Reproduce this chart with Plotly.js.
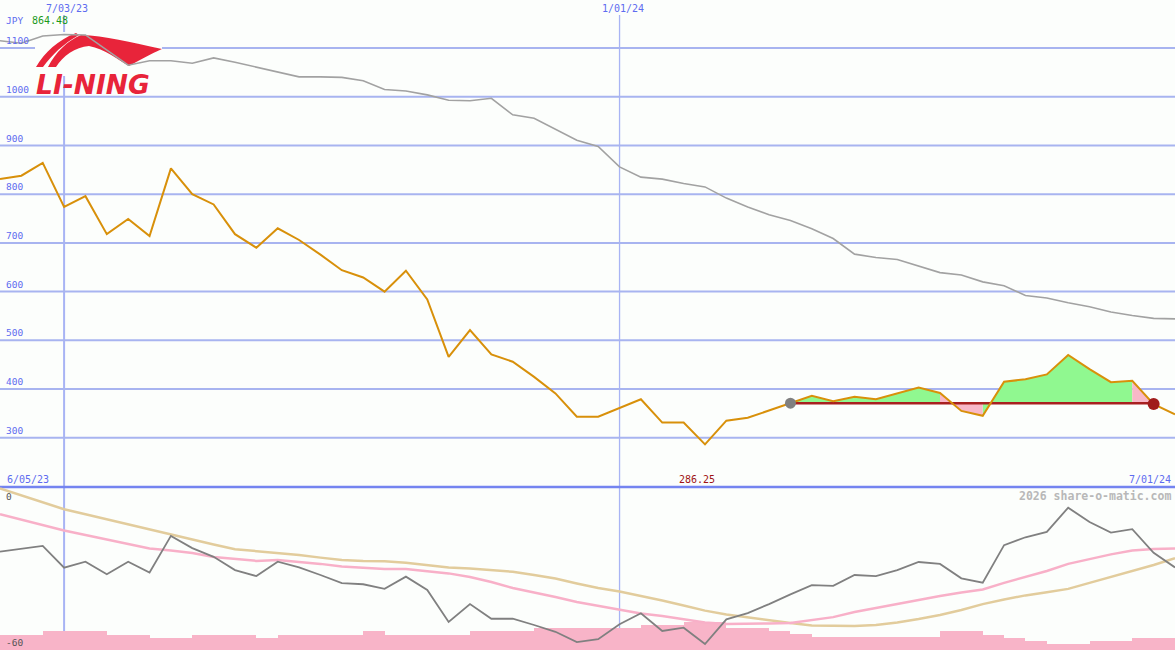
<!DOCTYPE html>
<html>
<head>
<meta charset="utf-8">
<script src="https://cdn.plot.ly/plotly-3.0.1.min.js"></script>
<style>
  html, body { margin: 0; padding: 0; background: #fcfefc; }
  #chart { width: 1175px; height: 650px; }
</style>
</head>
<body>
<div id="chart"></div>
<script>
// ---------- data ----------
const dates = [
  '2023-06-12','2023-06-19','2023-06-26','2023-07-03','2023-07-10','2023-07-17','2023-07-24','2023-07-31',
  '2023-08-07','2023-08-14','2023-08-21','2023-08-28','2023-09-04','2023-09-11','2023-09-18','2023-09-25',
  '2023-10-02','2023-10-09','2023-10-16','2023-10-23','2023-10-30','2023-11-06','2023-11-13','2023-11-20',
  '2023-11-27','2023-12-04','2023-12-11','2023-12-18','2023-12-25','2024-01-01','2024-01-08','2024-01-15',
  '2024-01-22','2024-01-29','2024-02-05','2024-02-12','2024-02-19','2024-02-26','2024-03-04','2024-03-11',
  '2024-03-18','2024-03-25','2024-04-01','2024-04-08','2024-04-15','2024-04-22','2024-04-29','2024-05-06',
  '2024-05-13','2024-05-20','2024-05-27','2024-06-03','2024-06-10','2024-06-17','2024-06-24','2024-07-01'
];
const price = [
  831, 838, 864.48, 774, 796, 718, 749, 714, 853, 800, 779, 718, 690, 730, 706, 676,
  644, 629, 600, 643, 584, 466, 521, 471, 456, 425, 391, 343, 343, 361, 379, 331,
  331, 286.25, 335, 341, 356, 371, 386, 375, 384, 379, 391, 403, 392, 355, 345, 415,
  420, 430, 470, 441, 414, 417, 369, 348
];
const priceMA = [
  1115, 1110, 1125, 1128, 1127, 1096, 1065, 1074, 1074, 1069, 1080, 1071, 1061, 1052, 1041, 1041,
  1040, 1033, 1015, 1012, 1004, 993, 992, 997, 963, 956, 934, 911, 898, 856, 835, 831,
  822, 815, 792, 774, 758, 746, 729, 709, 677, 670, 666, 653, 639, 634, 620, 612,
  592, 587, 577, 569, 558, 551, 545, 544
];
const relStrength = [
  -23.8, -22.7, -21.7, -29.7, -27.5, -32.1, -27.5, -31.5, -18.0, -22.5, -25.7, -30.6, -32.8, -27.5, -29.6, -32.4,
  -35.4, -35.8, -37.5, -33.0, -37.9, -49.7, -43.1, -48.5, -48.5, -50.8, -53.3, -57.1, -56.0, -50.5, -46.5, -53.0,
  -51.8, -57.8, -48.7, -46.4, -43.1, -39.5, -36.1, -36.4, -32.4, -32.8, -30.6, -27.6, -28.3, -33.6, -35.2, -21.4,
  -18.5, -16.5, -7.6, -12.9, -16.8, -15.5, -24.2, -29.6
];
const rsShortMA = [
  -10.0, -12.0, -14.0, -16.0, -17.7, -19.3, -20.9, -22.6, -23.4, -24.3, -25.8, -26.5, -27.2, -26.9, -27.6, -28.3,
  -29.3, -29.8, -30.2, -30.2, -30.9, -31.8, -33.1, -35.0, -37.2, -38.8, -40.5, -42.3, -43.8, -45.3, -46.6, -47.5,
  -48.8, -49.9, -50.4, -50.4, -50.2, -50.1, -49.1, -47.9, -46.0, -44.5, -43.1, -41.6, -40.1, -38.8, -37.7, -35.3,
  -33.1, -30.9, -28.3, -26.5, -24.8, -23.4, -22.8, -22.6
];
const rsLongMA = [
  -0.5, -3.1, -5.6, -8.2, -10.0, -11.9, -13.7, -15.6, -17.4, -19.3, -21.2, -22.9, -23.6, -24.5, -25.0, -26.0,
  -26.9, -27.2, -27.3, -27.9, -28.7, -29.6, -30.0, -30.6, -31.2, -32.4, -33.7, -35.5, -37.2, -38.5, -40.1, -41.8,
  -43.6, -45.5, -46.9, -48.0, -49.1, -50.1, -51.0, -51.2, -51.2, -50.8, -49.9, -48.6, -47.1, -45.3, -43.1, -41.4,
  -39.9, -38.7, -37.5, -35.3, -33.1, -31.1, -28.7, -26.2
];
const volume = [
  15, 15, 19, 19, 19, 15, 15, 12, 12, 15, 15, 15, 12, 15, 15, 15,
  15, 19, 15, 15, 15, 15, 19, 19, 19, 22, 22, 22, 22, 22, 25, 25,
  28, 28, 22, 22, 19, 16, 13, 13, 13, 13, 13, 13, 19, 19, 15, 12,
  9, 6, 6, 9, 9, 12, 12
];
const yTicks = [300, 400, 500, 600, 700, 800, 900, 1000, 1100];
const markDates = ['2023-07-03', '2024-01-01'];
const markLabels = ['7/03/23', '1/01/24'];
const currency = 'JPY';
const firstLabel = '6/05/23';
const lastLabel = '7/01/24';
const credit = '2026 share-o-matic.com';
const brand = 'LI-NING';
const startIdx = 37;
const endIdx = 54;

// ---------- geometry helpers ----------
const W = 1175, H = 650, TOPH = 487;
const BG = '#fcfefc';
const pxX = x => x / W;
const pxY = y => 1 - y / H;
function pathOf(cmds) {
  return cmds.map(c => {
    const k = c[0]; const nums = c.slice(1);
    let s = k;
    for (let i = 0; i < nums.length; i += 2) s += ' ' + pxX(nums[i]).toFixed(5) + ',' + pxY(nums[i + 1]).toFixed(5);
    return s;
  }).join(' ') + ' Z';
}

// ---------- traces ----------
const base = price[startIdx];
const greenX = [], greenY = [], pinkX = [], pinkY = [];
for (let j = startIdx; j < endIdx; j++) {
  const up = price[j + 1] >= base;
  const X = up ? greenX : pinkX, Y = up ? greenY : pinkY;
  X.push(dates[j], dates[j], dates[j + 1], dates[j + 1], null);
  Y.push(base, price[j], price[j + 1], base, null);
}

const traces = [
  { x: greenX, y: greenY, type: 'scatter', mode: 'lines', fill: 'toself', fillcolor: '#90f890',
    line: { width: 0, color: 'rgba(0,0,0,0)' }, xaxis: 'x', yaxis: 'y', hoverinfo: 'skip' },
  { x: pinkX, y: pinkY, type: 'scatter', mode: 'lines', fill: 'toself', fillcolor: '#f8b8c8',
    line: { width: 0, color: 'rgba(0,0,0,0)' }, xaxis: 'x', yaxis: 'y', hoverinfo: 'skip' },
  { x: [dates[startIdx], dates[endIdx]], y: [base, base], type: 'scatter', mode: 'lines',
    line: { color: '#a82020', width: 2.5 }, xaxis: 'x', yaxis: 'y' },
  { x: dates, y: priceMA, type: 'scatter', mode: 'lines',
    line: { color: '#a2a2a2', width: 1.6 }, xaxis: 'x', yaxis: 'y' },
  { x: dates, y: price, type: 'scatter', mode: 'lines',
    line: { color: '#d8900a', width: 2 }, xaxis: 'x', yaxis: 'y' },
  { x: [dates[startIdx]], y: [price[startIdx]], type: 'scatter', mode: 'markers',
    marker: { color: '#808080', size: 11 }, xaxis: 'x', yaxis: 'y' },
  { x: [dates[endIdx]], y: [price[endIdx]], type: 'scatter', mode: 'markers',
    marker: { color: '#a01c1c', size: 12 }, xaxis: 'x', yaxis: 'y' },
  // lower panel
  { x: dates.slice(0, volume.length), y: volume, type: 'bar', width: 7 * 86400000, offset: 0,
    marker: { color: '#f8b4c8', line: { width: 0 } }, xaxis: 'x', yaxis: 'y2' },
  { x: dates, y: rsLongMA, type: 'scatter', mode: 'lines',
    line: { color: '#e2cc9c', width: 2.5 }, xaxis: 'x', yaxis: 'y3' },
  { x: dates, y: rsShortMA, type: 'scatter', mode: 'lines',
    line: { color: '#f8b0c8', width: 2.5 }, xaxis: 'x', yaxis: 'y3' },
  { x: dates, y: relStrength, type: 'scatter', mode: 'lines',
    line: { color: '#808080', width: 1.8 }, xaxis: 'x', yaxis: 'y3' }
];

// ---------- shapes (all drawn beneath the traces, in order) ----------
const shapes = [];
markDates.forEach((d, k) => {
  shapes.push({ type: 'line', layer: 'below', xref: 'x', yref: 'paper', x0: d, x1: d,
    y0: 0, y1: pxY(15), line: { color: '#a8b4f4', width: k === 0 ? 2 : 1.3 } });
});
yTicks.forEach(v => {
  shapes.push({ type: 'line', layer: 'below', xref: 'paper', yref: 'y', x0: 0, x1: 1, y0: v, y1: v,
    line: { color: '#a8b4f0', width: 2 } });
});
shapes.push({ type: 'line', layer: 'below', xref: 'paper', yref: 'paper', x0: 0, x1: 1,
  y0: pxY(487), y1: pxY(487), line: { color: '#7484f0', width: 2.5 } });
// logo backing box + swoosh
shapes.push({ type: 'rect', layer: 'below', xref: 'paper', yref: 'paper',
  x0: pxX(35), x1: pxX(162), y0: pxY(32), y1: pxY(76), fillcolor: BG, line: { width: 0 } });
shapes.push({ type: 'path', layer: 'below', xref: 'paper', yref: 'paper',
  path: pathOf([['M', 36, 67], ['C', 45, 52, 58, 40, 76, 33], ['L', 79, 35], ['C', 63, 44, 52, 55, 43, 67]]),
  fillcolor: '#e8243a', line: { width: 0 } });
shapes.push({ type: 'path', layer: 'below', xref: 'paper', yref: 'paper',
  path: pathOf([['M', 48, 67], ['C', 56, 52, 67, 41, 81, 35], ['C', 105, 36, 130, 42, 162, 49],
               ['C', 150, 54, 140, 60, 129, 66], ['C', 118, 60, 105, 49, 89, 46], ['C', 75, 47, 63, 56, 56, 67]]),
  fillcolor: '#e8243a', line: { width: 0 } });

// ---------- annotations ----------
const mono = 'DejaVu Sans Mono';
const blue = '#5e6cf0';
const ann = [];
yTicks.forEach(v => ann.push({ xref: 'paper', x: pxX(4), xanchor: 'left', yref: 'y', y: v, yanchor: 'bottom',
  text: String(v), showarrow: false, font: { family: mono, size: 9.5, color: blue } }));
markDates.forEach((d, k) => ann.push({ xref: 'x', x: d, xanchor: 'center', xshift: 3, yref: 'paper', y: pxY(9),
  yanchor: 'middle', text: markLabels[k], showarrow: false, font: { family: mono, size: 10, color: blue } }));
const maxP = Math.max(...price), minP = Math.min(...price);
const minIdx = price.indexOf(minP);
ann.push({ xref: 'paper', x: pxX(4), xanchor: 'left', yref: 'paper', y: pxY(21), yanchor: 'middle',
  text: currency, showarrow: false, font: { family: mono, size: 9.5, color: blue } });
ann.push({ xref: 'paper', x: pxX(30), xanchor: 'left', yref: 'paper', y: pxY(21), yanchor: 'middle',
  text: maxP.toFixed(2), showarrow: false, font: { family: mono, size: 10, color: '#1c9a1c' } });
ann.push({ xref: 'paper', x: pxX(5), xanchor: 'left', yref: 'paper', y: pxY(479), yanchor: 'middle',
  text: firstLabel, showarrow: false, font: { family: mono, size: 10, color: blue } });
ann.push({ xref: 'paper', x: pxX(1173), xanchor: 'right', yref: 'paper', y: pxY(479), yanchor: 'middle',
  text: lastLabel, showarrow: false, font: { family: mono, size: 10, color: blue } });
ann.push({ xref: 'x', x: dates[minIdx], xanchor: 'center', xshift: -8, yref: 'paper', y: pxY(479), yanchor: 'middle',
  text: minP.toFixed(2), showarrow: false, font: { family: mono, size: 10, color: '#a01414' } });
ann.push({ xref: 'paper', x: pxX(4), xanchor: 'left', yref: 'paper', y: pxY(496), yanchor: 'middle',
  text: '0', showarrow: false, font: { family: mono, size: 9.5, color: '#555555' } });
ann.push({ xref: 'paper', x: pxX(4), xanchor: 'left', yref: 'paper', y: pxY(642), yanchor: 'middle',
  text: '-60', showarrow: false, font: { family: mono, size: 9.5, color: '#555555' } });
ann.push({ xref: 'paper', x: pxX(1173), xanchor: 'right', yref: 'paper', y: pxY(496), yanchor: 'middle',
  text: credit, showarrow: false, font: { family: mono, size: 11.5, color: '#b8b8b8', weight: 'bold' } });
ann.push({ xref: 'paper', x: pxX(34), xanchor: 'left', yref: 'paper', y: pxY(84.5), yanchor: 'middle',
  text: brand, showarrow: false, font: { family: 'DejaVu Sans', size: 26.5, color: '#e8243a', weight: 'bold', style: 'italic' } });

// ---------- layout ----------
const layout = {
  width: W, height: H,
  margin: { l: 0, r: 0, t: 0, b: 0, pad: 0 },
  paper_bgcolor: BG, plot_bgcolor: 'rgba(0,0,0,0)',
  showlegend: false,
  xaxis: { type: 'date', range: [dates[0], dates[dates.length - 1]], domain: [0, 1], anchor: 'y2',
    showgrid: false, zeroline: false, showline: false, showticklabels: false, ticks: '', fixedrange: true },
  yaxis: { domain: [1 - TOPH / H, 1], range: [198.8, 1198.8], anchor: 'x',
    showgrid: false, zeroline: false, showline: false, showticklabels: false, ticks: '', fixedrange: true },
  yaxis2: { domain: [0, 1 - TOPH / H], range: [0, H - TOPH], anchor: 'x', showgrid: false, zeroline: false,
    showline: false, showticklabels: false, ticks: '', fixedrange: true },
  yaxis3: { overlaying: 'y2', range: [-60, 0], anchor: 'x', showgrid: false, zeroline: false,
    showline: false, showticklabels: false, ticks: '', fixedrange: true },
  bargap: 0,
  shapes: shapes,
  annotations: ann
};

Plotly.newPlot('chart', traces, layout, { staticPlot: true, displayModeBar: false });
</script>
</body>
</html>
